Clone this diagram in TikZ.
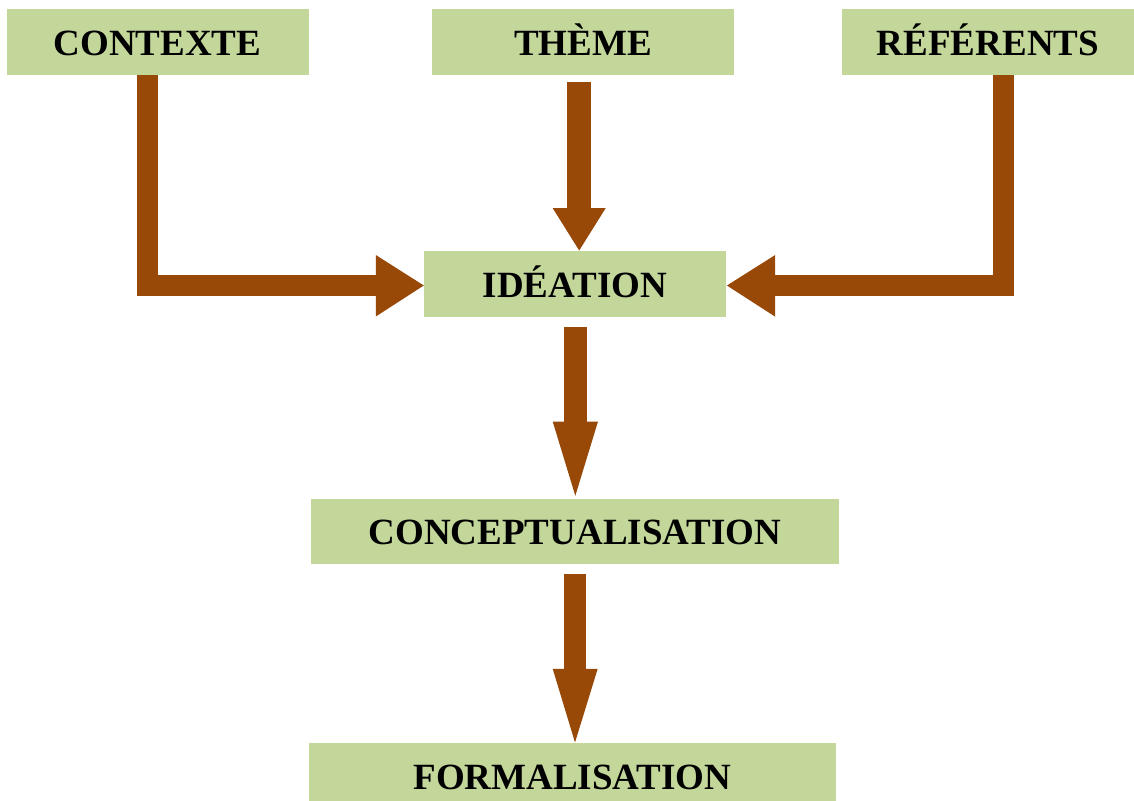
\documentclass[tikz,border=0pt]{standalone}
\usepackage{fontspec}
\setmainfont{Liberation Serif}
\usetikzlibrary{calc}
\definecolor{boxgreen}{HTML}{C4D79B}
\definecolor{arrbrown}{HTML}{984807}
\begin{document}
\begin{tikzpicture}[x=1pt,y=-1pt,
  box/.style={fill=boxgreen, draw=none, inner sep=0pt, text height=27pt, text depth=0pt,
    font=\bfseries\fontsize{37}{40}\selectfont, align=center, minimum height=65pt},
  shaft/.style={draw=arrbrown, line width=#1, line join=miter},
  head/.style={fill=arrbrown}]
\useasboundingbox (0,0) rectangle (1134,800);
\clip (0,0) rectangle (1134,800);
% boxes
\node[box, minimum width=302pt] (ctx)   at (157.5,42)  {CONTEXTE};
\node[box, minimum width=302pt] (theme) at (583,42)    {THÈME};
\node[box, minimum width=292pt] (ref)   at (988,42)    {RÉFÉRENTS};
\node[box, minimum width=302pt, minimum height=66pt] (idea) at (575,284) {IDÉATION};
\node[box, minimum width=528pt] (conc)  at (575,531)   {CONCEPTUALISATION};
\node[box, minimum width=527pt] (form)  at (572.5,775.5) {FORMALISATION};
% CONTEXTE -> IDEATION
\draw[shaft=20.5pt] ($(ctx.south)+(-10,0)$) |- ($(idea.west)+(-47.5,1.5)$);
\fill[head] ($(idea.west)+(-48,-29)$) -- ($(idea.west)+(0,1.5)$) -- ($(idea.west)+(-48,32.5)$) -- cycle;
% REFERENTS -> IDEATION
\draw[shaft=20.5pt] ($(ref.south)+(15.3,0)$) |- ($(idea.east)+(48.5,1.5)$);
\fill[head] ($(idea.east)+(49,-29)$) -- ($(idea.east)+(0.7,1.5)$) -- ($(idea.east)+(49,32.7)$) -- cycle;
% THEME -> IDEATION
\draw[shaft=23.5pt] ($(theme.south)+(-3.8,7.2)$) -- ($(idea.north)+(4.2,-42.2)$);
\fill[head] ($(idea.north)+(-22.3,-42.7)$) -- ($(idea.north)+(4.2,-0.3)$) -- ($(idea.north)+(30.7,-42.7)$) -- cycle;
% IDEATION -> CONCEPTUALISATION
\draw[shaft=22.5pt] ($(idea.south)+(0.3,9.7)$) -- ($(conc.north)+(0.3,-76.3)$);
\fill[head] ($(conc.north)+(-22.3,-76.8)$) -- ($(conc.north)+(0.3,-2.5)$) -- ($(conc.north)+(23,-76.8)$) -- cycle;
% CONCEPTUALISATION -> FORMALISATION
\draw[shaft=22.5pt] ($(conc.south)+(0.2,10.5)$) -- ($(form.north)+(2.7,-73.5)$);
\fill[head] ($(form.north)+(-19.8,-74)$) -- ($(form.north)+(2.5,-0.3)$) -- ($(form.north)+(25.2,-74)$) -- cycle;
\end{tikzpicture}
\end{document}
